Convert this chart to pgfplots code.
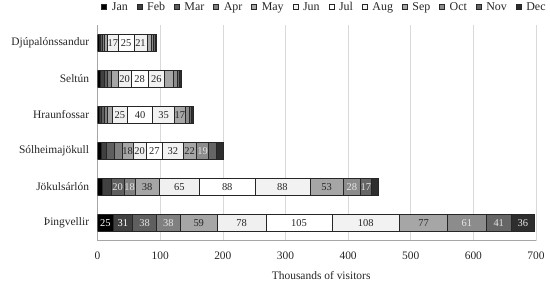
\documentclass[border=0pt]{standalone}
\usepackage{fontspec}
\setmainfont{Liberation Serif}
\usepackage{pgfplots}
\usepackage{pgfplotstable}
\pgfplotsset{compat=1.18}
\definecolor{cJan}{HTML}{000000}
\definecolor{cFeb}{HTML}{404040}
\definecolor{cMar}{HTML}{5F5F5F}
\definecolor{cApr}{HTML}{808080}
\definecolor{cMay}{HTML}{A6A6A6}
\definecolor{cJun}{HTML}{F0F0F0}
\definecolor{cJul}{HTML}{FFFFFF}
\definecolor{cAug}{HTML}{F2F2F2}
\definecolor{cSep}{HTML}{A6A6A6}
\definecolor{cOct}{HTML}{8C8C8C}
\definecolor{cNov}{HTML}{666666}
\definecolor{cDec}{HTML}{2E2E2E}
\definecolor{txt}{HTML}{262626}
% rows: 0 Thingvellir, 1 Jokulsarlon, 2 Solheimajokull, 3 Hraunfossar, 4 Seltun, 5 Djupalonssandur
\pgfplotstableread{
idx Jan Feb Mar Apr May Jun Jul Aug Sep Oct Nov Dec
0   25  31  38  38  59  78  105 108 77  61  41  36
1   8   14  20  18  38  65  88  88  53  28  17  11
2   6   8   12  13  18  20  27  32  22  19  13  11
3   3   3   4   5   8   25  40  35  17  6   4   3
4   5   5   5   6   12  20  28  26  14  6   4   3
5   2   2   3   3   6   17  25  21  6   4   3   2
}\visitors
\newcommand{\monthbar}[3]{%
  \addplot[fill=#2, draw=black!85, line width=0.5bp,
    visualization depends on={\thisrow{#1} \as \val},
    nodes near coords={\pgfmathparse{\val<16.5 ? 0 : 1}\ifnum\pgfmathresult=1 \pgfmathprintnumber{\val}\fi},
    every node near coord/.append style={anchor=center,
      text=#3, inner sep=0pt, font=\fontsize{10.5}{12}\selectfont}]
    table[x=#1, y=idx] {\visitors};
  \addlegendentry{#1}}
\begin{document}
\begin{tikzpicture}
\begin{axis}[
  at={(0,0)}, anchor=south west, name=ax,
  scale only axis, width=438.4bp, height=215.7bp,
  xbar stacked, bar width=17bp,
  xmin=0, xmax=700, ymin=-0.5, ymax=5.5,
  xtick={0,100,...,700}, ytick={0,1,2,3,4,5},
  yticklabels={Þingvellir, Jökulsárlón, Sólheimajökull, Hraunfossar, Seltún, Djúpalónssandur},
  axis lines=left, axis line style={-, draw=black!35, line width=0.6bp},
  xmajorgrids, grid style={draw=black!15, line width=0.6bp},
  major tick length=0pt,
  /pgf/number format/assume math mode=true,
  tick label style={font=\fontsize{11.5}{13}\selectfont, text=txt},
  yticklabel style={xshift=-5bp},
  xticklabel style={yshift=-8bp},
  xlabel={Thousands of visitors},
  xlabel style={font=\fontsize{11.5}{13}\selectfont, text=txt, anchor=base, at={(axis description cs:0.51,-0.1776)}},
  legend columns=12,
  legend style={at={(0.5176,1.0834)}, anchor=center, draw=none, fill=none,
    font=\fontsize{12}{13}\selectfont, text=txt, inner sep=0pt,
    /tikz/every odd column/.append style={column sep=3bp},
    /tikz/every even column/.append style={column sep=7bp}},
  legend image code/.code={\draw[#1, line width=0.4bp] (0bp,-2.5bp) rectangle (5bp,2.5bp);},
]
\monthbar{Jan}{cJan}{white}
\monthbar{Feb}{cFeb}{white}
\monthbar{Mar}{cMar}{white!90!black}
\monthbar{Apr}{cApr}{white!90!black}
\monthbar{May}{cMay}{txt}
\monthbar{Jun}{cJun}{txt}
\monthbar{Jul}{cJul}{txt}
\monthbar{Aug}{cAug}{txt}
\monthbar{Sep}{cSep}{txt}
\monthbar{Oct}{cOct}{white!90!black}
\monthbar{Nov}{cNov}{white!90!black}
\monthbar{Dec}{cDec}{white!90!black}
\end{axis}
\pgfresetboundingbox
\path (-97.6bp,-43.3bp) rectangle (452.4bp,240.7bp);
\end{tikzpicture}
\end{document}
